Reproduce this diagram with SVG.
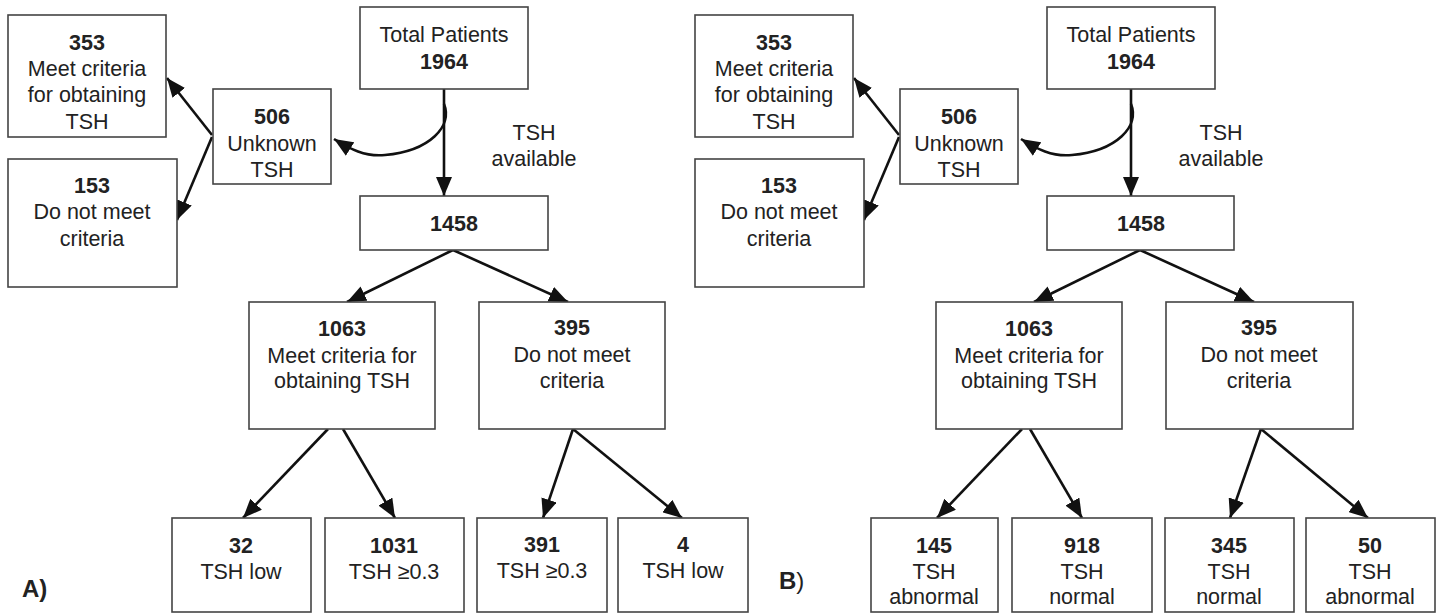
<svg xmlns="http://www.w3.org/2000/svg" width="1440" height="614" viewBox="0 0 1440 614">
<defs>
<marker id="ah" markerUnits="userSpaceOnUse" markerWidth="20" markerHeight="16" refX="19" refY="8" orient="auto">
<path d="M0,0 L19,8 L0,16 z" fill="#111"/>
</marker>
<style>
.box{fill:#fff;stroke:#444;stroke-width:1.6}
text{font-family:"Liberation Sans",Arial,sans-serif;font-size:21.5px;fill:#222;text-anchor:middle}
.b{font-weight:bold}
.lbl{font-size:24px;text-anchor:start}
.c{fill:none;stroke:#111;stroke-width:2.6;marker-end:url(#ah)}
</style>
</defs>
<rect width="1440" height="614" fill="#fff"/>

<g id="connectors">
<!-- Panel A -->
<path class="c" d="M444,89 L444,196"/>
<path class="c" d="M444,104 C453,126 430,151 385,155 C365,157 350,149 334,139"/>
<path class="c" d="M212,135 L167,78"/>
<path class="c" d="M212,137 L177,220"/>
<path class="c" d="M453,250 L347,302"/>
<path class="c" d="M453,250 L568,302"/>
<path class="c" d="M328,429 L243,518"/>
<path class="c" d="M343,429 L395,518"/>
<path class="c" d="M573,429 L543,518"/>
<path class="c" d="M573,429 L682,518"/>
<!-- Panel B -->
<path class="c" d="M1131,89 L1131,196"/>
<path class="c" d="M1131,104 C1140,126 1117,151 1072,155 C1052,157 1037,149 1021,139"/>
<path class="c" d="M899,135 L854,78"/>
<path class="c" d="M899,137 L864,220"/>
<path class="c" d="M1140,250 L1034,302"/>
<path class="c" d="M1140,250 L1254,302"/>
<path class="c" d="M1022,429 L937,518"/>
<path class="c" d="M1030,429 L1082,518"/>
<path class="c" d="M1261,429 L1230,518"/>
<path class="c" d="M1261,429 L1368,518"/>
</g>

<!-- Panel A nodes -->
<g id="a-353"><rect class="box" x="8" y="15" width="158" height="122"/>
<text x="87" y="50" class="b">353</text><text x="87" y="76">Meet criteria</text><text x="87" y="102">for obtaining</text><text x="87" y="129">TSH</text></g>
<g id="a-153"><rect class="box" x="8" y="159" width="169" height="128"/>
<text x="92" y="193" class="b">153</text><text x="92" y="219">Do not meet</text><text x="92" y="246">criteria</text></g>
<g id="a-506"><rect class="box" x="213" y="89" width="118" height="95"/>
<text x="272" y="124" class="b">506</text><text x="272" y="151">Unknown</text><text x="272" y="177">TSH</text></g>
<g id="a-total"><rect class="box" x="360" y="7" width="168" height="82"/>
<text x="444" y="42">Total Patients</text><text x="444" y="69" class="b">1964</text></g>
<g id="a-tsh-available"><text x="534" y="140">TSH</text><text x="534" y="166">available</text></g>
<g id="a-1458"><rect class="box" x="360" y="196" width="188" height="54"/>
<text x="454" y="231" class="b">1458</text></g>
<g id="a-1063"><rect class="box" x="249" y="302" width="186" height="127"/>
<text x="342" y="336" class="b">1063</text><text x="342" y="363">Meet criteria for</text><text x="342" y="388">obtaining TSH</text></g>
<g id="a-395"><rect class="box" x="479" y="302" width="186" height="127"/>
<text x="572" y="335" class="b">395</text><text x="572" y="362">Do not meet</text><text x="572" y="388">criteria</text></g>
<g id="a-32"><rect class="box" x="172" y="518" width="139" height="94"/>
<text x="241" y="553" class="b">32</text><text x="241" y="579">TSH low</text></g>
<g id="a-1031"><rect class="box" x="325" y="518" width="139" height="94"/>
<text x="394" y="553" class="b">1031</text><text x="394" y="579">TSH ≥0.3</text></g>
<g id="a-391"><rect class="box" x="477" y="518" width="130" height="94"/>
<text x="542" y="552" class="b">391</text><text x="542" y="578">TSH ≥0.3</text></g>
<g id="a-4"><rect class="box" x="618" y="518" width="130" height="94"/>
<text x="683" y="552" class="b">4</text><text x="683" y="578">TSH low</text></g>
<g id="label-a"><text x="22" y="597" class="lbl b">A)</text></g>

<!-- Panel B nodes -->
<g id="b-353"><rect class="box" x="695" y="15" width="158" height="122"/>
<text x="774" y="50" class="b">353</text><text x="774" y="76">Meet criteria</text><text x="774" y="102">for obtaining</text><text x="774" y="129">TSH</text></g>
<g id="b-153"><rect class="box" x="695" y="159" width="169" height="128"/>
<text x="779" y="193" class="b">153</text><text x="779" y="219">Do not meet</text><text x="779" y="246">criteria</text></g>
<g id="b-506"><rect class="box" x="900" y="89" width="118" height="95"/>
<text x="959" y="124" class="b">506</text><text x="959" y="151">Unknown</text><text x="959" y="177">TSH</text></g>
<g id="b-total"><rect class="box" x="1047" y="7" width="168" height="82"/>
<text x="1131" y="42">Total Patients</text><text x="1131" y="69" class="b">1964</text></g>
<g id="b-tsh-available"><text x="1221" y="140">TSH</text><text x="1221" y="166">available</text></g>
<g id="b-1458"><rect class="box" x="1047" y="196" width="187" height="54"/>
<text x="1141" y="231" class="b">1458</text></g>
<g id="b-1063"><rect class="box" x="936" y="302" width="186" height="127"/>
<text x="1029" y="336" class="b">1063</text><text x="1029" y="363">Meet criteria for</text><text x="1029" y="388">obtaining TSH</text></g>
<g id="b-395"><rect class="box" x="1166" y="302" width="187" height="127"/>
<text x="1259" y="335" class="b">395</text><text x="1259" y="362">Do not meet</text><text x="1259" y="388">criteria</text></g>
<g id="b-145"><rect class="box" x="871" y="518" width="127" height="94"/>
<text x="934" y="553" class="b">145</text><text x="934" y="579">TSH</text><text x="934" y="604">abnormal</text></g>
<g id="b-918"><rect class="box" x="1012" y="518" width="140" height="94"/>
<text x="1082" y="553" class="b">918</text><text x="1082" y="579">TSH</text><text x="1082" y="604">normal</text></g>
<g id="b-345"><rect class="box" x="1165" y="518" width="129" height="94"/>
<text x="1229" y="553" class="b">345</text><text x="1229" y="579">TSH</text><text x="1229" y="604">normal</text></g>
<g id="b-50"><rect class="box" x="1306" y="518" width="129" height="94"/>
<text x="1370" y="553" class="b">50</text><text x="1370" y="579">TSH</text><text x="1370" y="604">abnormal</text></g>
<g id="label-b"><text x="779" y="589" class="lbl"><tspan class="b">B</tspan>)</text></g>
</svg>
